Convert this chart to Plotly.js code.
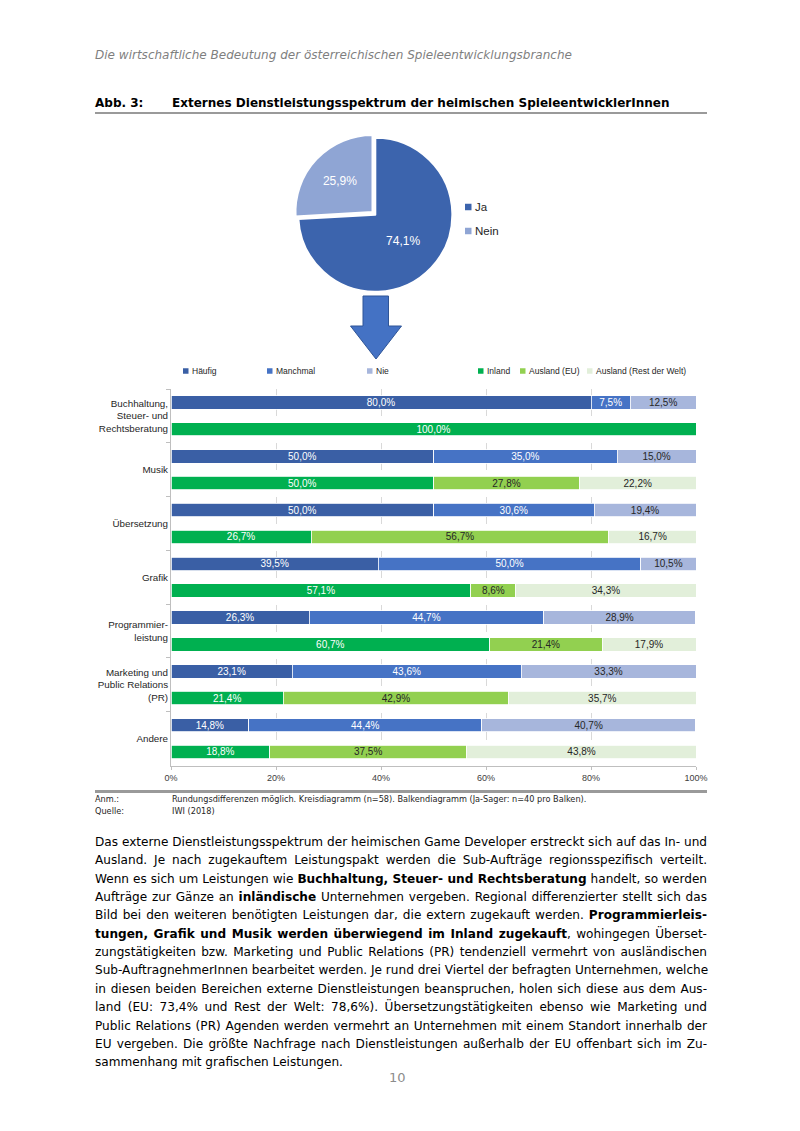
<!DOCTYPE html>
<html><head><meta charset="utf-8">
<script src="https://cdn.plot.ly/plotly-3.0.1.min.js"></script>
<style>
html,body{margin:0;padding:0;background:#fff;}
#page{position:relative;width:800px;height:1131px;overflow:hidden;background:#fff;}
#chart{position:absolute;left:0;top:0;width:800px;height:1131px;}
.t{position:absolute;white-space:nowrap;font-family:"DejaVu Sans",Verdana,sans-serif;color:#000;line-height:18px;height:18px;}
.rule{position:absolute;background:#9a9a9a;}
.pl{position:absolute;left:95px;width:612px;font-family:"DejaVu Sans",Verdana,sans-serif;color:#000;white-space:nowrap;text-align:justify;text-align-last:justify;line-height:18px;height:18px;}
</style></head>
<body>
<div id="page">
<div id="chart"></div>
</div>
<script>
// ---------------- data ----------------
const pieLabels = ['Ja', 'Nein'];
const pieValues = [74.1, 25.9];

const categories = [
  'Buchhaltung,<br>Steuer- und<br>Rechtsberatung',
  'Musik',
  'Übersetzung',
  'Grafik',
  'Programmier-<br>leistung',
  'Marketing und<br>Public Relations<br>(PR)',
  'Andere'
];
const freqNames = ['Häufig', 'Manchmal', 'Nie'];
const haeufig  = [80.0, 50.0, 50.0, 39.5, 26.3, 23.1, 14.8];
const manchmal = [7.5, 35.0, 30.6, 50.0, 44.7, 43.6, 44.4];
const nie      = [12.5, 15.0, 19.4, 10.5, 28.9, 33.3, 40.7];

const regionNames = ['Inland', 'Ausland (EU)', 'Ausland (Rest der Welt)'];
const inland    = [100.0, 50.0, 26.7, 57.1, 60.7, 21.4, 18.8];
const auslandEU = [0, 27.8, 56.7, 8.6, 21.4, 42.9, 37.5];
const auslandRW = [0, 22.2, 16.7, 34.3, 17.9, 35.7, 43.8];

const xTickVals = [0, 20, 40, 60, 80, 100];
const xTickText = ['0%', '20%', '40%', '60%', '80%', '100%'];

// ---------------- styling ----------------
const W = 800, H = 1131;
const X = v => v / W;
const Y = v => 1 - v / H;
const CF = '"Liberation Sans", Arial, sans-serif';
const freqColors = ['#3A5FA5', '#4673C5', '#A7B6DC'];
const freqText = ['#ffffff', '#ffffff', '#262626'];
const regionColors = ['#00B050', '#92D050', '#E2EFDA'];
const regionText = ['#ffffff', '#262626', '#262626'];

function lbl(v) { return v > 0 ? v.toFixed(1).replace('.', ',') + '%' : ''; }

const traces = [];
// pie
traces.push({
  type: 'pie', labels: pieLabels, values: pieValues, sort: false,
  direction: 'clockwise', rotation: 0, pull: [0, 0.05],
  marker: {colors: ['#3C64AD', '#8FA5D4'], line: {color: '#ffffff', width: 2}},
  texttemplate: '%{percent:.1%}', textposition: 'inside', insidetextorientation: 'horizontal',
  textfont: {family: CF, size: 12, color: '#ffffff'},
  domain: {x: [X(294.4), X(456.2)], y: [Y(295.6), Y(133.8)]},
  showlegend: false, hoverinfo: 'label+percent'
});
const freqData = [haeufig, manchmal, nie];
freqData.forEach((vals, i) => {
  traces.push({
    type: 'bar', orientation: 'h', name: freqNames[i], y: categories, x: vals,
    xaxis: 'x', yaxis: 'y', offset: -0.373, width: 0.25,
    marker: {color: freqColors[i], line: {color: '#ffffff', width: 0.8}},
    text: vals.map(lbl), textposition: 'inside', insidetextanchor: 'middle', textangle: 0,
    constraintext: 'none', textfont: {family: CF, size: 10, color: freqText[i]},
    showlegend: false, hoverinfo: 'name+x'
  });
});
const regionData = [inland, auslandEU, auslandRW];
regionData.forEach((vals, i) => {
  traces.push({
    type: 'bar', orientation: 'h', name: regionNames[i], y: categories, x: vals,
    xaxis: 'x', yaxis: 'y2', offset: 0.123, width: 0.25,
    marker: {color: regionColors[i], line: {color: '#ffffff', width: 0.8}},
    text: vals.map(lbl), textposition: 'inside', insidetextanchor: 'middle', textangle: 0,
    constraintext: 'none', textfont: {family: CF, size: 10, color: regionText[i]},
    showlegend: false, hoverinfo: 'name+x'
  });
});

// legend (manual, compact like the original)
const annotations = [];
const shapes = [];
function legendItem(x, y, color, text, size, sq) {
  shapes.push({type: 'rect', xref: 'paper', yref: 'paper', x0: X(x), x1: X(x + sq), y0: Y(y + sq / 2), y1: Y(y - sq / 2),
    fillcolor: color, line: {width: 0}});
  annotations.push({xref: 'paper', yref: 'paper', x: X(x + sq + 1.2), y: Y(y), xanchor: 'left', yanchor: 'middle',
    text: text, showarrow: false, font: {family: CF, size: size, color: '#262626'}});
}
const freqLegX = [183, 267, 367];
const regLegX = [478, 520, 587];
freqNames.forEach((n, i) => legendItem(freqLegX[i], 371, freqColors[i], n, 8.5, 5.5));
regionNames.forEach((n, i) => legendItem(regLegX[i], 371, regionColors[i], n, 8.5, 5.5));
pieLabels.forEach((n, i) => legendItem(465, 207 + i * 24, ['#3C64AD', '#8FA5D4'][i], n, 11.5, 6.5));

// arrow
const arrowPts = [[363, 296], [388.5, 296], [388.5, 326], [401.5, 326], [376, 359], [350.5, 326], [363, 326]];
shapes.push({type: 'path', xref: 'paper', yref: 'paper',
  path: 'M' + arrowPts.map(p => X(p[0]) + ',' + Y(p[1])).join('L') + 'Z',
  fillcolor: '#4472C4', line: {color: '#2F5597', width: 1}});

const yCommon = {
  type: 'category', categoryorder: 'array', categoryarray: categories,
  range: [6.5, -0.5], domain: [Y(765.5), Y(389)], fixedrange: true
};

const layout = {
  width: W, height: H, margin: {l: 0, r: 0, t: 0, b: 0},
  paper_bgcolor: '#ffffff', plot_bgcolor: 'rgba(0,0,0,0)',
  separators: ',.', barmode: 'stack', showlegend: false,
  font: {family: CF, color: '#262626'},
  xaxis: {
    domain: [X(171), X(696)], range: [0, 100], tickvals: xTickVals, ticktext: xTickText,
    showgrid: true, gridcolor: '#d9d9d9', griddash: 'dash', gridwidth: 1,
    showline: true, linecolor: '#bfbfbf', linewidth: 1.5, ticks: 'outside', ticklen: 3, tickcolor: '#bfbfbf',
    zeroline: false, tickfont: {family: CF, size: 9, color: '#404040'}, anchor: 'y', fixedrange: true
  },
  yaxis: Object.assign({}, yCommon, {
    showline: true, linecolor: '#bfbfbf', linewidth: 1, ticks: 'outside', tickson: 'boundaries',
    ticklen: 4, tickcolor: '#bfbfbf', showgrid: false, anchor: 'x',
    tickfont: {family: CF, size: 9.8, color: '#262626'}
  }),
  yaxis2: Object.assign({}, yCommon, {overlaying: 'y', anchor: 'x', visible: false, showgrid: false}),
  annotations: annotations, shapes: shapes
};

Plotly.newPlot('chart', traces, layout, {staticPlot: true, displayModeBar: false});

// ---------------- page texts ----------------
const page = document.getElementById('page');
const cv = document.createElement('canvas').getContext('2d');
function measure(text, style) {
  cv.font = style + ' 100px "DejaVu Sans"';
  return cv.measureText(text).width;
}
function fit(text, style, target) { return 100 * target / measure(text, style); }
function addDiv(html, x, cy, fs, style, color) {
  const d = document.createElement('div');
  d.className = 't';
  d.innerHTML = html;
  d.style.fontSize = fs.toFixed(2) + 'px';
  if (style.indexOf('italic') >= 0) d.style.fontStyle = 'italic';
  if (style.indexOf('bold') >= 0) d.style.fontWeight = 'bold';
  d.style.left = x + 'px';
  d.style.top = (cy - 9) + 'px';
  if (color) d.style.color = color;
  page.appendChild(d);
}
function addRule(x, y, w, h) {
  const r = document.createElement('div');
  r.className = 'rule';
  r.style.left = x + 'px'; r.style.top = y + 'px'; r.style.width = w + 'px'; r.style.height = h + 'px';
  page.appendChild(r);
}

const headerTxt = 'Die wirtschaftliche Bedeutung der österreichischen Spieleentwicklungsbranche';
addDiv(headerTxt, 95, 55, fit(headerTxt, 'italic', 477), 'italic', '#7f7f7f');
const titleTxt = 'Externes Dienstleistungsspektrum der heimischen SpieleentwicklerInnen';
const tfs = fit(titleTxt, 'bold', 498);
addDiv('Abb. 3:', 95, 103, tfs, 'bold', null);
addDiv(titleTxt, 172, 103, tfs, 'bold', null);
addRule(95, 112, 612, 2);

addRule(95, 790, 612, 2.5);
const anmTxt = 'Rundungsdifferenzen möglich. Kreisdiagramm (n=58). Balkendiagramm (Ja-Sager: n=40 pro Balken).';
const afs = fit(anmTxt, '', 415);
addDiv('Anm.:', 95, 799, afs, '', '#262626');
addDiv(anmTxt, 172, 799, afs, '', '#262626');
addDiv('Quelle:', 95, 811, afs, '', '#262626');
addDiv('IWI (2018)', 172, 811, afs, '', '#262626');

const paraLines = [
  'Das externe Dienstleistungsspektrum der heimischen Game Developer erstreckt sich auf das In- und',
  'Ausland. Je nach zugekauftem Leistungspakt werden die Sub-Aufträge regionsspezifisch verteilt.',
  'Wenn es sich um Leistungen wie <b>Buchhaltung, Steuer- und Rechtsberatung</b> handelt, so werden',
  'Aufträge zur Gänze an <b>inländische</b> Unternehmen vergeben. Regional differenzierter stellt sich das',
  'Bild bei den weiteren benötigten Leistungen dar, die extern zugekauft werden. <b>Programmierleis-</b>',
  '<b>tungen, Grafik und Musik werden überwiegend im Inland zugekauft</b>, wohingegen Überset-',
  'zungstätigkeiten bzw. Marketing und Public Relations (PR) tendenziell vermehrt von ausländischen',
  'Sub-AuftragnehmerInnen bearbeitet werden. Je rund drei Viertel der befragten Unternehmen, welche',
  'in diesen beiden Bereichen externe Dienstleistungen beanspruchen, holen sich diese aus dem Aus-',
  'land (EU: 73,4% und Rest der Welt: 78,6%). Übersetzungstätigkeiten ebenso wie Marketing und',
  'Public Relations (PR) Agenden werden vermehrt an Unternehmen mit einem Standort innerhalb der',
  'EU vergeben. Die größte Nachfrage nach Dienstleistungen außerhalb der EU offenbart sich im Zu-',
  'sammenhang mit grafischen Leistungen.'
];
const pfs = fit('sammenhang mit grafischen Leistungen.', '', 248);
paraLines.forEach((ln, i) => {
  const d = document.createElement('div');
  d.className = 'pl';
  d.innerHTML = ln;
  d.style.fontSize = pfs.toFixed(2) + 'px';
  d.style.top = (842 + i * 18.35 - 9) + 'px';
  if (i === paraLines.length - 1) { d.style.textAlignLast = 'left'; }
  page.appendChild(d);
});

const pn = document.createElement('div');
pn.className = 't'; pn.textContent = '10';
pn.style.fontSize = '13px'; pn.style.color = '#8c8c8c';
pn.style.left = '389px'; pn.style.top = (1078 - 9) + 'px';
page.appendChild(pn);
</script>
</body></html>
